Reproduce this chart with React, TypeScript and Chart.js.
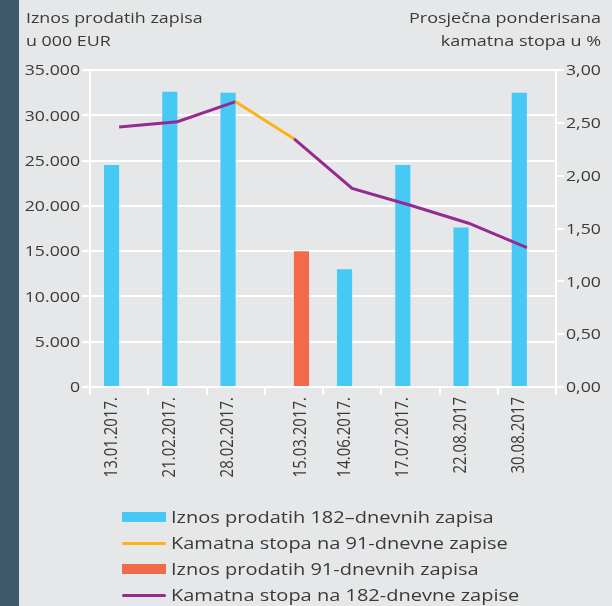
import React, { useEffect, useRef } from "react";
import { Chart, registerables } from "chart.js";

Chart.register(...registerables);

const categories = [
  "13.01.2017.",
  "21.02.2017.",
  "28.02.2017.",
  "15.03.2017.",
  "14.06.2017.",
  "17.07.2017.",
  "22.08.2017",
  "30.08.2017",
];
const amount182 = [24500, 32600, 32500, null, 13000, 24500, 17600, 32500];
const amount91 = [null, null, null, 15000, null, null, null, null];
const rate91 = [null, null, 2.7, 2.35, null, null, null, null];
const rate182 = [2.46, 2.51, 2.7, 2.35, 1.88, 1.72, 1.55, 1.32];

const leftTicks = [0, 5000, 10000, 15000, 20000, 25000, 30000, 35000];
const rightTicks = [0, 0.5, 1, 1.5, 2, 2.5, 3];

const legendItems = [
  { label: "Iznos prodatih 182–dnevnih zapisa", color: "#46c9f5", kind: "box" },
  { label: "Kamatna stopa na 91-dnevne zapise", color: "#fbb316", kind: "line" },
  { label: "Iznos prodatih 91-dnevnih zapisa", color: "#f36a4b", kind: "box" },
  { label: "Kamatna stopa na 182-dnevne zapise", color: "#952b8f", kind: "line" },
];

const TEXT = "#3a3a3a";
const FONT = '"Open Sans", "Noto Sans", sans-serif';
const STRETCH = 1.18;

function fmtThousands(v: number) {
  if (v === 0) return "0";
  const s = Math.round(v).toString();
  return s.replace(/\B(?=(\d{3})+(?!\d))/g, ".");
}

const labelPlugin = {
  id: "labelPlugin",
  afterDraw(chart: any) {
    const ctx = chart.ctx;
    const area = chart.chartArea;
    const m0 = chart.getDatasetMeta(0);
    const m1 = chart.getDatasetMeta(1);
    ctx.save();
    ctx.font = `15px ${FONT}`;
    ctx.fillStyle = TEXT;
    // x labels, placed under the drawn bar
    const y0 = area.bottom + 10;
    categories.forEach((lab, i) => {
      const useRed = amount182[i] == null && amount91[i] != null;
      const el = useRed ? m1.data[i] : m0.data[i];
      ctx.save();
      ctx.translate(el.x, y0);
      ctx.scale(STRETCH, 1);
      ctx.rotate(-Math.PI / 2);
      ctx.textAlign = "right";
      ctx.textBaseline = "middle";
      ctx.fillText(lab, 0, 0);
      ctx.restore();
    });
    // left y labels
    const ys = chart.scales.y;
    leftTicks.forEach((v) => {
      const py = ys.getPixelForValue(v);
      ctx.save();
      ctx.translate(area.left - 10, py + 1);
      ctx.scale(STRETCH, 1);
      ctx.textAlign = "right";
      ctx.textBaseline = "middle";
      ctx.fillText(fmtThousands(v), 0, 0);
      ctx.restore();
    });
    // right y labels
    const ys1 = chart.scales.y1;
    rightTicks.forEach((v) => {
      const py = ys1.getPixelForValue(v);
      ctx.save();
      ctx.translate(area.right + 10, py + 1);
      ctx.scale(STRETCH, 1);
      ctx.textAlign = "left";
      ctx.textBaseline = "middle";
      ctx.fillText(v.toFixed(2).replace(".", ","), 0, 0);
      ctx.restore();
    });
    ctx.restore();
  },
};

export default function App() {
  const ref = useRef<HTMLCanvasElement | null>(null);

  useEffect(() => {
    if (!ref.current) return;
    const chart = new Chart(ref.current, {
      type: "bar",
      data: {
        labels: categories,
        datasets: [
          {
            type: "bar",
            label: legendItems[0].label,
            data: amount182,
            backgroundColor: "#46c9f5",
            yAxisID: "y",
            order: 3,
            categoryPercentage: 0.52,
            barPercentage: 1.0,
          },
          {
            type: "bar",
            label: legendItems[2].label,
            data: amount91,
            backgroundColor: "#f36a4b",
            yAxisID: "y",
            order: 3,
            categoryPercentage: 0.52,
            barPercentage: 1.0,
          },
          {
            type: "line",
            label: legendItems[3].label,
            data: rate182,
            borderColor: "#952b8f",
            borderWidth: 3,
            pointRadius: 0,
            tension: 0,
            yAxisID: "y1",
            order: 2,
            segment: {
              borderColor: (c: any) =>
                rate91[c.p0DataIndex] != null && rate91[c.p1DataIndex] != null
                  ? "rgba(0,0,0,0)"
                  : undefined,
            },
          },
          {
            type: "line",
            label: legendItems[1].label,
            data: rate91,
            borderColor: "#fbb316",
            borderWidth: 3,
            pointRadius: 0,
            tension: 0,
            yAxisID: "y1",
            order: 1,
          },
        ] as any,
      },
      options: {
        responsive: false,
        animation: false,
        layout: { padding: { top: 70, left: 0, right: 0, bottom: 0 } },
        plugins: {
          legend: { display: false },
          tooltip: { enabled: false },
          title: { display: false },
        },
        scales: {
          x: {
            type: "category",
            offset: true,
            grid: {
              display: true,
              offset: true,
              drawOnChartArea: false,
              drawTicks: true,
              tickLength: 8,
              color: "#ffffff",
              lineWidth: 2,
            },
            border: { display: true, color: "#ffffff", width: 2 },
            ticks: { display: false },
            afterFit(scale: any) {
              scale.height = 219;
            },
          },
          y: {
            position: "left",
            min: 0,
            max: 35000,
            afterBuildTicks(scale: any) {
              scale.ticks = leftTicks.map((v) => ({ value: v }));
            },
            grid: {
              color: "#ffffff",
              lineWidth: 2,
              tickLength: 8,
              drawTicks: true,
            },
            border: { display: true, color: "#ffffff", width: 2 },
            ticks: { display: false },
            afterFit(scale: any) {
              scale.width = 90;
            },
          },
          y1: {
            position: "right",
            min: 0,
            max: 3,
            afterBuildTicks(scale: any) {
              scale.ticks = rightTicks.map((v) => ({ value: v }));
            },
            grid: {
              drawOnChartArea: false,
              color: "#ffffff",
              lineWidth: 2,
              tickLength: 8,
              drawTicks: true,
            },
            border: { display: true, color: "#ffffff", width: 2 },
            ticks: { display: false },
            afterFit(scale: any) {
              scale.width = 56;
            },
          },
        },
      } as any,
      plugins: [labelPlugin],
    });
    return () => chart.destroy();
  }, []);

  return (
    <div
      style={{
        position: "fixed",
        left: 0,
        top: 0,
        width: 612,
        height: 606,
        background: "#e6e7e8",
        overflow: "hidden",
        fontFamily: FONT,
        color: TEXT,
      }}
    >
      <div
        style={{
          position: "absolute",
          left: 0,
          top: 0,
          width: 19,
          height: 606,
          background: "#3e5a6a",
        }}
      />
      <canvas
        ref={ref}
        width={612}
        height={606}
        style={{ position: "absolute", left: 0, top: 0, width: 612, height: 606 }}
      />
      <div
        style={{
          position: "absolute",
          left: 26,
          top: 6,
          fontSize: 15,
          lineHeight: "23px",
          whiteSpace: "nowrap",
          transform: `scaleX(${STRETCH + 0.01})`,
          transformOrigin: "left top",
        }}
      >
        <div>Iznos prodatih zapisa</div>
        <div>u 000 EUR</div>
      </div>
      <div
        style={{
          position: "absolute",
          right: 11,
          top: 6,
          fontSize: 15,
          lineHeight: "23px",
          textAlign: "right",
          whiteSpace: "nowrap",
          transform: `scaleX(${STRETCH + 0.02})`,
          transformOrigin: "right top",
        }}
      >
        <div>Prosječna ponderisana</div>
        <div>kamatna stopa u %</div>
      </div>
      <div style={{ position: "absolute", left: 122, top: 504 }}>
        {legendItems.map((it) => (
          <div
            key={it.label}
            style={{
              display: "flex",
              alignItems: "center",
              height: 26,
              whiteSpace: "nowrap",
            }}
          >
            <div
              style={{
                width: 44,
                height: it.kind === "box" ? 10 : 3,
                background: it.color,
                marginRight: 5,
                borderRadius: it.kind === "line" ? 2 : 0,
              }}
            />
            <span
              style={{
                display: "inline-block",
                fontSize: 16,
                transform: "scaleX(1.25)",
                transformOrigin: "left center",
              }}
            >
              {it.label}
            </span>
          </div>
        ))}
      </div>
    </div>
  );
}
